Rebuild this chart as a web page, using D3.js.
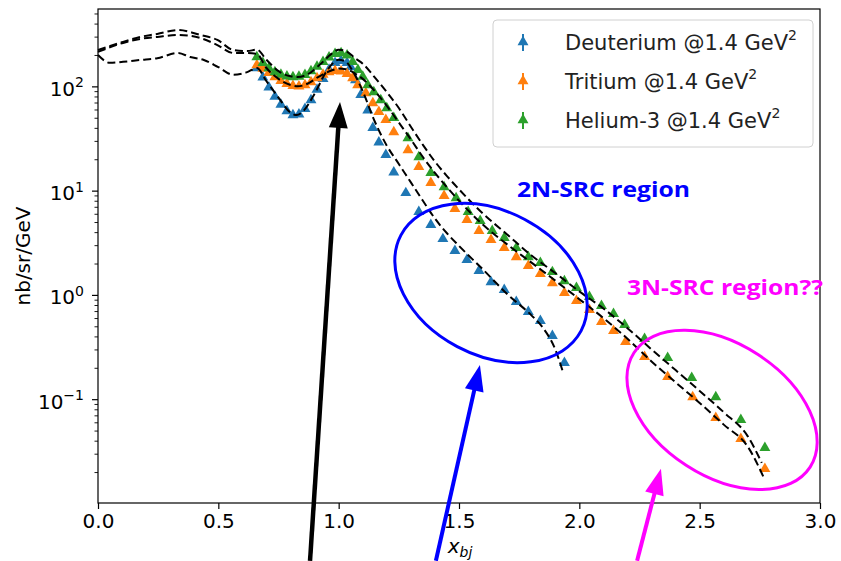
<!DOCTYPE html>
<html>
<head>
<meta charset="utf-8">
<script src="https://cdn.jsdelivr.net/npm/d3@7"></script>
<style>
body { margin: 0; background: #fff; }
text { font-family: "DejaVu Sans", sans-serif; }
</style>
</head>
<body>
<svg width="841" height="561"></svg>
<script>
// measured cross sections (nb/sr/GeV) vs x_bj
const deutX = [0.66, 0.685, 0.71, 0.735, 0.76, 0.785, 0.81, 0.835, 0.86, 0.885, 0.91, 0.935, 0.96, 0.985, 1.01, 1.035, 1.05, 1.07, 1.092, 1.121, 1.142, 1.167, 1.196, 1.229, 1.279, 1.333, 1.383, 1.433, 1.483, 1.533, 1.583, 1.633, 1.688, 1.738, 1.788, 1.838, 1.888, 1.938];
const deutY = [150, 122, 98, 80, 67, 58, 53, 54, 61, 74, 93, 118, 145, 168, 176, 168, 153, 115, 83, 59, 40, 29, 22, 15, 9.5, 6.25, 4.69, 3.44, 2.64, 2.17, 1.70, 1.33, 1.12, 0.857, 0.687, 0.563, 0.405, 0.223];

const tritX = [0.66, 0.685, 0.71, 0.735, 0.76, 0.785, 0.81, 0.835, 0.86, 0.885, 0.91, 0.935, 0.96, 0.985, 1.01, 1.035, 1.058, 1.079, 1.113, 1.142, 1.167, 1.196, 1.229, 1.288, 1.333, 1.383, 1.438, 1.483, 1.533, 1.583, 1.633, 1.688, 1.738, 1.788, 1.838, 1.888, 1.938, 1.988, 2.042, 2.092, 2.142, 2.192, 2.271, 2.367, 2.471, 2.567, 2.671, 2.771];
const tritY = [160, 148, 135, 123, 113, 106, 101, 100, 103, 110, 120, 130, 137, 141, 139, 132, 120, 103, 86, 69, 57, 47.7, 36.5, 24.5, 16.9, 11.9, 8.9, 6.68, 5.24, 4.11, 3.37, 2.82, 2.31, 1.90, 1.59, 1.30, 1.045, 0.876, 0.718, 0.551, 0.452, 0.354, 0.255, 0.164, 0.105, 0.0662, 0.0416, 0.0215];

const he3X = [0.66, 0.685, 0.71, 0.735, 0.76, 0.785, 0.81, 0.835, 0.86, 0.885, 0.91, 0.935, 0.96, 0.985, 1.01, 1.035, 1.058, 1.08, 1.1, 1.121, 1.146, 1.175, 1.2, 1.229, 1.288, 1.333, 1.383, 1.438, 1.488, 1.538, 1.588, 1.638, 1.688, 1.738, 1.788, 1.838, 1.888, 1.938, 1.988, 2.042, 2.092, 2.142, 2.188, 2.271, 2.367, 2.467, 2.567, 2.671, 2.771];
const he3Y = [191, 168, 150, 137, 130, 125, 123, 124, 129, 140, 155, 172, 190, 205, 209, 198, 172, 144, 124, 103, 88, 74, 62, 50, 32, 21, 14.8, 10.8, 8.5, 6.25, 5.12, 4.11, 3.52, 2.82, 2.31, 2.03, 1.66, 1.36, 1.17, 0.957, 0.785, 0.657, 0.516, 0.379, 0.249, 0.16, 0.105, 0.0633, 0.0341];

// model curves (dashed)
const modelDX = [0, 0.05, 0.104, 0.175, 0.246, 0.333, 0.383, 0.44, 0.5, 0.5625, 0.62, 0.66, 0.7, 0.75, 0.8, 0.825, 0.85, 0.9, 0.95, 1.0, 1.03, 1.06, 1.1, 1.15, 1.2, 1.25, 1.3, 1.35, 1.4, 1.45, 1.5, 1.6, 1.7, 1.8, 1.85, 1.9, 1.933];
const modelDY = [200, 168, 172, 179, 186, 209, 191, 179, 153, 129, 137, 150, 112, 78, 56, 53, 57, 85, 140, 180, 172, 138, 90, 46, 27, 18, 12, 8.0, 5.4, 3.9, 2.95, 1.75, 1.02, 0.64, 0.48, 0.3, 0.179];

const modelTX = [0, 0.104, 0.175, 0.246, 0.333, 0.425, 0.496, 0.5625, 0.62, 0.66, 0.7, 0.75, 0.8, 0.83, 0.87, 0.92, 0.97, 1.0, 1.03, 1.07, 1.1, 1.15, 1.2, 1.25, 1.3, 1.35, 1.4, 1.45, 1.5, 1.6, 1.7, 1.8, 1.9, 2.0, 2.1, 2.2, 2.3, 2.4, 2.5, 2.6, 2.7, 2.767];
const modelTY = [214, 261, 285, 298, 311, 291, 249, 209, 209, 205, 150, 118, 103, 100, 106, 125, 142, 148, 146, 132, 118, 90, 65, 45, 31, 21, 14.8, 10.8, 8.0, 4.7, 3.05, 2.05, 1.37, 0.91, 0.6, 0.38, 0.23, 0.145, 0.092, 0.057, 0.035, 0.0176];

const modelHX = [0, 0.104, 0.175, 0.246, 0.333, 0.425, 0.496, 0.5625, 0.62, 0.66, 0.7, 0.75, 0.8, 0.83, 0.87, 0.92, 0.97, 1.0, 1.03, 1.07, 1.1, 1.15, 1.2, 1.25, 1.3, 1.35, 1.4, 1.45, 1.5, 1.6, 1.7, 1.8, 1.9, 2.0, 2.1, 2.2, 2.3, 2.4, 2.5, 2.6, 2.7, 2.758];
const modelHY = [223, 267, 298, 318, 347, 311, 279, 223, 218, 225, 180, 140, 125, 123, 130, 160, 205, 225, 218, 185, 165, 122, 88, 62, 41, 27.5, 19, 13.8, 10.3, 6.0, 3.8, 2.4, 1.62, 1.08, 0.74, 0.48, 0.3, 0.19, 0.12, 0.075, 0.044, 0.0245];

const xTicks = [0, 0.5, 1.0, 1.5, 2.0, 2.5, 3.0];
const yTicks = [0.1, 1, 10, 100];
const yTickExp = ["\u22121", "0", "1", "2"];
const legendLabels = ["Deuterium @1.4 GeV", "Tritium @1.4 GeV", "Helium-3 @1.4 GeV"];
const colors = ["#1f77b4", "#ff7f0e", "#2ca02c"];

const svg = d3.select("svg");

const plotLeft = 98, plotRight = 820, plotTop = 9, plotBottom = 503;

var x = d3.scaleLinear().domain([0, 3]).range([plotLeft, plotRight]);
var y = d3.scaleLog().domain([0.0101, 552]).range([plotBottom, plotTop]);

// x axis
var xAxis = svg.append("g")
    .attr("transform", `translate(0,${plotBottom})`)
    .call(d3.axisBottom(x).tickValues(xTicks).tickSize(6).tickPadding(5).tickFormat(d3.format(".1f")));
xAxis.select(".domain").remove();
xAxis.selectAll("line").attr("stroke", "#000").attr("stroke-width", 1.2);
xAxis.selectAll("text").attr("font-size", 20).attr("fill", "#000")
    .style("font-family", "DejaVu Sans");

// y minor ticks
var minor = [];
for (let k = -2; k <= 2; k++) {
    for (let m = 2; m <= 9; m++) {
        var v = m * Math.pow(10, k);
        if (v > 0.0101 && v < 552) minor.push(v);
    }
}
var yMinor = svg.append("g")
    .attr("transform", `translate(${plotLeft},0)`)
    .call(d3.axisLeft(y).tickValues(minor).tickSize(3.5).tickFormat(""));
yMinor.select(".domain").remove();
yMinor.selectAll("line").attr("stroke", "#000").attr("stroke-width", 0.9);

// y major ticks
var yAxis = svg.append("g")
    .attr("transform", `translate(${plotLeft},0)`)
    .call(d3.axisLeft(y).tickValues(yTicks).tickSize(6).tickPadding(8).tickFormat(""));
yAxis.select(".domain").remove();
yAxis.selectAll("line").attr("stroke", "#000").attr("stroke-width", 1.2);
yAxis.selectAll(".tick text")
    .attr("font-size", 20).attr("fill", "#000").attr("dy", "0.45em")
    .each(function (d, i) {
        var t = d3.select(this);
        t.append("tspan").text("10");
        t.append("tspan").attr("font-size", 14).attr("dy", "-0.6em").text(yTickExp[i]);
    });

// frame
svg.append("rect")
    .attr("x", plotLeft).attr("y", plotTop)
    .attr("width", plotRight - plotLeft).attr("height", plotBottom - plotTop)
    .attr("fill", "none").attr("stroke", "#000").attr("stroke-width", 1.2);

// axis labels
svg.append("text")
    .attr("transform", `translate(30,${(plotTop + plotBottom) / 2}) rotate(-90)`)
    .attr("text-anchor", "middle")
    .attr("font-size", 20)
    .text("nb/sr/GeV");

var xl = svg.append("text")
    .attr("x", (plotLeft + plotRight) / 2 + 1).attr("y", 553)
    .attr("text-anchor", "middle")
    .attr("font-size", 20);
xl.append("tspan").attr("font-style", "italic").text("x");
xl.append("tspan").attr("font-style", "italic").attr("font-size", 14).attr("dy", "0.3em").text("bj");

// data markers
var series = [[deutX, deutY], [tritX, tritY], [he3X, he3Y]];
var tri = d3.symbol().type(d3.symbolTriangle).size(52);

series.forEach((s, k) => {
    var pts = s[0].map((v, i) => [v, s[1][i]]);
    svg.append("g")
        .selectAll("path")
        .data(pts)
        .enter()
        .append("path")
        .attr("d", tri)
        .attr("transform", d => `translate(${x(d[0])},${y(d[1])})`)
        .attr("fill", colors[k]);
});

// model lines
var line = d3.line()
    .x(d => x(d[0]))
    .y(d => y(d[1]))
    .curve(d3.curveMonotoneX);

[[modelDX, modelDY], [modelTX, modelTY], [modelHX, modelHY]].forEach(m => {
    svg.append("path")
        .datum(m[0].map((v, i) => [v, m[1][i]]))
        .attr("d", line)
        .attr("fill", "none")
        .attr("stroke", "#000")
        .attr("stroke-width", 2)
        .attr("stroke-dasharray", "8,4");
});

// legend
var lg = svg.append("g");
lg.append("rect")
    .attr("x", 493).attr("y", 20).attr("width", 320).attr("height", 127)
    .attr("rx", 4)
    .attr("fill", "#fff").attr("fill-opacity", 0.8)
    .attr("stroke", "#d0d0d0");

legendLabels.forEach((lab, i) => {
    var cy = 42 + i * 39;
    lg.append("line")
        .attr("x1", 523).attr("x2", 523)
        .attr("y1", cy - 8).attr("y2", cy + 9)
        .attr("stroke", colors[i]).attr("stroke-width", 2);
    lg.append("path")
        .attr("d", tri)
        .attr("transform", `translate(523,${cy})`)
        .attr("fill", colors[i]);
    var t = lg.append("text")
        .attr("x", 565).attr("y", cy + 8)
        .attr("font-size", 21)
        .attr("fill", "#222");
    t.append("tspan").text(lab);
    t.append("tspan").attr("font-size", 14).attr("dy", "-0.7em").text("2");
});

// annotations (overlay), anchored in data coordinates
function arrow(tip, tail, color, width) {
    var tx = x(tip[0]), ty = y(tip[1]);
    var bx = x(tail[0]), by = y(tail[1]);
    var len = Math.hypot(tx - bx, ty - by);
    var ux = (tx - bx) / len, uy = (ty - by) / len;
    var headLen = 26, halfW = 9.5;
    var hx = tx - ux * headLen, hy = ty - uy * headLen;
    svg.append("line")
        .attr("x1", bx).attr("y1", by)
        .attr("x2", hx + ux * 2).attr("y2", hy + uy * 2)
        .attr("stroke", color).attr("stroke-width", width);
    svg.append("path")
        .attr("d", `M${tx},${ty}L${hx - uy * halfW},${hy + ux * halfW}L${hx + uy * halfW},${hy - ux * halfW}Z`)
        .attr("fill", color);
}

function ellipse(c, rx, ry, angle, color) {
    var cx = x(c[0]), cy = y(c[1]);
    svg.append("ellipse")
        .attr("cx", cx).attr("cy", cy)
        .attr("rx", rx).attr("ry", ry)
        .attr("transform", `rotate(${angle},${cx},${cy})`)
        .attr("fill", "none")
        .attr("stroke", color).attr("stroke-width", 3);
}

ellipse([1.633, 1.30], 102, 72, 28, "#0000ff");
ellipse([2.593, 0.0789], 105, 66, 33, "#ff00ff");

arrow([1.0055, 70.8], [0.881, 0.00282], "#000", 4.5);
arrow([1.587, 0.213], [1.404, 0.00282], "#0000ff", 4);
arrow([2.339, 0.0215], [2.240, 0.00282], "#ff00ff", 4);

svg.append("text")
    .attr("x", x(1.741)).attr("y", y(8.7))
    .attr("font-size", 21).attr("font-weight", "bold")
    .attr("textLength", 173).attr("lengthAdjust", "spacingAndGlyphs")
    .style("font-family", "Open Sans")
    .attr("fill", "#0000ff")
    .text("2N-SRC region");

svg.append("text")
    .attr("x", x(2.198)).attr("y", y(1.0))
    .attr("font-size", 21).attr("font-weight", "bold")
    .attr("textLength", 196).attr("lengthAdjust", "spacingAndGlyphs")
    .style("font-family", "Open Sans")
    .attr("fill", "#ff00ff")
    .text("3N-SRC region??");
</script>
</body>
</html>
